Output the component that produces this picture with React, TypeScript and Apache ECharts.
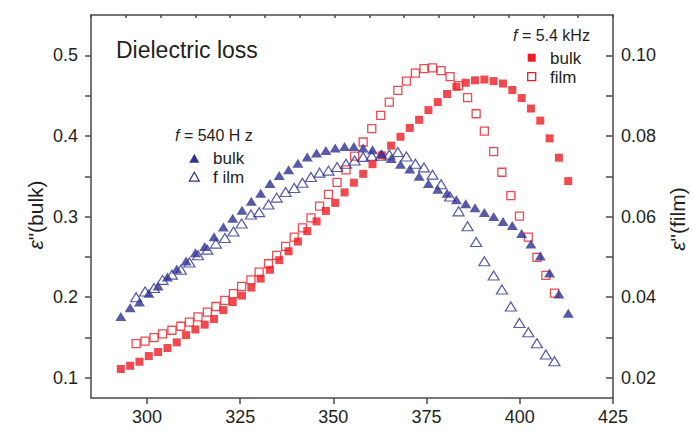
import React, { useEffect, useRef } from "react";
import * as echarts from "echarts";

// Temperature grids (K)
const T_BULK = [293.0, 295.5, 298.0, 300.5, 303.0, 305.5, 308.0, 310.5, 313.0, 315.5, 318.0, 320.5, 323.0, 325.5, 328.0, 330.5, 333.0, 335.5, 338.0, 340.5, 343.0, 345.5, 348.0, 350.5, 353.0, 355.5, 358.0, 360.5, 363.0, 365.5, 368.0, 370.5, 373.0, 375.5, 378.0, 380.5, 383.0, 385.5, 388.0, 390.5, 393.0, 395.5, 398.0, 400.5, 403.0, 405.5, 408.0, 410.5, 413.0];
const T_FILM = [297.1, 299.5, 301.9, 304.2, 306.7, 309.1, 311.4, 313.7, 316.2, 318.5, 320.9, 323.2, 325.4, 327.9, 330.1, 332.6, 334.8, 337.2, 339.5, 341.7, 344.0, 346.3, 348.7, 351.0, 353.4, 355.7, 358.0, 360.3, 362.7, 365.0, 367.3, 369.6, 372.0, 374.3, 376.6, 378.9, 381.3, 383.6, 386.0, 388.3, 390.5, 393.0, 395.2, 397.6, 399.9, 402.3, 404.6, 407.0, 409.3];

// f = 540 Hz
const BULK_540 = [0.176, 0.187, 0.194, 0.205, 0.214, 0.225, 0.235, 0.245, 0.255, 0.263, 0.275, 0.287, 0.298, 0.308, 0.319, 0.329, 0.341, 0.351, 0.358, 0.366, 0.374, 0.379, 0.382, 0.385, 0.387, 0.387, 0.385, 0.383, 0.378, 0.372, 0.365, 0.359, 0.350, 0.341, 0.334, 0.329, 0.321, 0.316, 0.311, 0.305, 0.300, 0.294, 0.289, 0.279, 0.266, 0.251, 0.230, 0.204, 0.180];
const FILM_540 = [0.0400, 0.0414, 0.0423, 0.0443, 0.0456, 0.0468, 0.0486, 0.0504, 0.0518, 0.0533, 0.0547, 0.0563, 0.0583, 0.0605, 0.0611, 0.0630, 0.0647, 0.0661, 0.0671, 0.0684, 0.0698, 0.0709, 0.0714, 0.0723, 0.0731, 0.0739, 0.0748, 0.0751, 0.0751, 0.0754, 0.0760, 0.0749, 0.0731, 0.0722, 0.0704, 0.0680, 0.0650, 0.0613, 0.0576, 0.0537, 0.0489, 0.0454, 0.0419, 0.0377, 0.0336, 0.0313, 0.0286, 0.0258, 0.0241];

// f = 5.4 kHz
const BULK_54K = [0.111, 0.115, 0.120, 0.127, 0.132, 0.137, 0.144, 0.153, 0.160, 0.166, 0.173, 0.184, 0.194, 0.202, 0.212, 0.223, 0.234, 0.246, 0.257, 0.269, 0.282, 0.294, 0.307, 0.317, 0.330, 0.342, 0.353, 0.365, 0.376, 0.388, 0.399, 0.410, 0.420, 0.432, 0.442, 0.452, 0.461, 0.466, 0.469, 0.470, 0.468, 0.465, 0.457, 0.447, 0.434, 0.419, 0.397, 0.373, 0.344];
const FILM_54K = [0.0285, 0.0291, 0.0300, 0.0309, 0.0318, 0.0328, 0.0338, 0.0351, 0.0363, 0.0377, 0.0392, 0.0409, 0.0427, 0.0443, 0.0462, 0.0483, 0.0504, 0.0526, 0.0549, 0.0572, 0.0597, 0.0626, 0.0655, 0.0685, 0.0716, 0.0750, 0.0785, 0.0818, 0.0851, 0.0884, 0.0913, 0.0936, 0.0956, 0.0967, 0.0969, 0.0962, 0.0947, 0.0925, 0.0895, 0.0855, 0.0812, 0.0761, 0.0710, 0.0652, 0.0601, 0.0549, 0.0499, 0.0454, 0.0410];

// Axis ticks
const X_TICKS = [300, 325, 350, 375, 400, 425];
const YL_LABELS = [0.1, 0.2, 0.3, 0.4, 0.5];
const YL_TICKS = [0.1, 0.15, 0.2, 0.25, 0.3, 0.35, 0.4, 0.45, 0.5];
const YR_LABELS = [0.02, 0.04, 0.06, 0.08, 0.1];
const YR_TICKS = [0.02, 0.03, 0.04, 0.05, 0.06, 0.07, 0.08, 0.09, 0.1];

const BLUE = "#2e3192";
const RED = "#ed1c24";
const AXIS = "#4a4a4a";
const TEXT = "#231f20";
const FONT = "Liberation Sans, Arial, sans-serif";

const pairs = (xs: number[], ys: number[]) => xs.map((x, i) => [x, ys[i]]);

export default function App() {
  const ref = useRef<HTMLDivElement>(null);
  useEffect(() => {
    if (!ref.current) return;
    const chart = echarts.init(ref.current, undefined, { renderer: "svg" });
    const axisLine = { show: true, lineStyle: { color: AXIS, width: 1.5 } };
    const tri = (x: number, y: number) => [[x - 5, y + 4.5], [x + 5, y + 4.5], [x, y - 4.5]];
    chart.setOption({
      animation: false,
      backgroundColor: "#fff",
      grid: { left: 91, right: 80, top: 15, bottom: 32, containLabel: false, outerBoundsMode: "none" },
      xAxis: [
        {
          type: "value", position: "bottom", min: 285, max: 425,
          axisLine,
          axisTick: { show: true, customValues: X_TICKS, length: 6, inside: false, lineStyle: { color: AXIS, width: 1.5 } },
          axisLabel: { customValues: X_TICKS, fontSize: 18, color: TEXT, fontFamily: FONT, margin: 10 },
          splitLine: { show: false },
        },
        {
          type: "value", position: "top", min: 0, max: 15, interval: 1,
          axisLine,
          axisTick: { show: true, inside: true, length: 3, lineStyle: { color: AXIS, width: 1.5 } },
          axisLabel: { show: false },
          splitLine: { show: false },
        },
      ],
      yAxis: [
        {
          type: "value", position: "left", min: 0.075, max: 0.55,
          axisLine,
          axisTick: { show: true, customValues: YL_TICKS, length: 6, inside: false, lineStyle: { color: AXIS, width: 1.5 } },
          axisLabel: { customValues: YL_LABELS, fontSize: 18, color: TEXT, fontFamily: FONT, margin: 13, formatter: (v: number) => v.toFixed(1) },
          splitLine: { show: false },
        },
        {
          type: "value", position: "right", min: 0.015, max: 0.11,
          axisLine,
          axisTick: { show: true, customValues: YR_TICKS, length: 7, inside: true, lineStyle: { color: AXIS, width: 1.5 } },
          axisLabel: { customValues: YR_LABELS, fontSize: 18, color: TEXT, fontFamily: FONT, margin: 8, formatter: (v: number) => v.toFixed(2) },
          splitLine: { show: false },
        },
      ],
      series: [
        {
          name: "film 5.4 kHz", type: "scatter", xAxisIndex: 0, yAxisIndex: 1,
          data: pairs(T_FILM, FILM_54K), symbol: "rect", symbolSize: 8,
          itemStyle: { color: "rgba(255,255,255,0)", borderColor: RED, borderWidth: 1.3 },
        },
        {
          name: "film 540 Hz", type: "scatter", xAxisIndex: 0, yAxisIndex: 1,
          data: pairs(T_FILM, FILM_540), symbol: "triangle", symbolSize: [11, 9],
          itemStyle: { color: "rgba(255,255,255,0)", borderColor: BLUE, borderWidth: 1.2 },
        },
        {
          name: "bulk 5.4 kHz", type: "scatter", xAxisIndex: 0, yAxisIndex: 0,
          data: pairs(T_BULK, BULK_54K), symbol: "rect", symbolSize: 8,
          itemStyle: { color: RED },
        },
        {
          name: "bulk 540 Hz", type: "scatter", xAxisIndex: 0, yAxisIndex: 0,
          data: pairs(T_BULK, BULK_540), symbol: "triangle", symbolSize: [11, 9],
          itemStyle: { color: BLUE },
        },
      ],
      graphic: [
        { type: "text", x: 116, y: 50, style: { text: "Dielectric loss", fontSize: 23, fontFamily: FONT, fill: TEXT, textVerticalAlign: "middle", textAlign: "left" } },
        {
          type: "text", x: 35, y: 215, rotation: Math.PI / 2,
          style: { text: '{i|ε}"(bulk)', fontSize: 21, fontFamily: FONT, fill: TEXT, textAlign: "center", textVerticalAlign: "middle", rich: { i: { fontStyle: "italic", fontSize: 21, fontFamily: FONT, fill: TEXT } } },
        },
        {
          type: "text", x: 677, y: 219, rotation: Math.PI / 2,
          style: { text: '{i|ε}"(film)', fontSize: 21, fontFamily: FONT, fill: TEXT, textAlign: "center", textVerticalAlign: "middle", rich: { i: { fontStyle: "italic", fontSize: 21, fontFamily: FONT, fill: TEXT } } },
        },
        // 5.4 kHz legend
        { type: "text", x: 513, y: 35, style: { text: "{i|f} = 5.4 kHz", fontSize: 16, fontFamily: FONT, fill: TEXT, textVerticalAlign: "middle", rich: { i: { fontStyle: "italic", fontSize: 16, fontFamily: FONT, fill: TEXT } } } },
        { type: "rect", shape: { x: 527.7, y: 53.7, width: 8, height: 8 }, style: { fill: RED } },
        { type: "text", x: 550, y: 58, style: { text: "bulk", fontSize: 17, fontFamily: FONT, fill: TEXT, textVerticalAlign: "middle" } },
        { type: "rect", shape: { x: 527.7, y: 72.7, width: 8, height: 8 }, style: { fill: "none", stroke: RED, lineWidth: 1.3 } },
        { type: "text", x: 550, y: 77, style: { text: "film", fontSize: 17, fontFamily: FONT, fill: TEXT, textVerticalAlign: "middle" } },
        // 540 Hz legend
        { type: "text", x: 175, y: 135, style: { text: "{i|f} = 540 H z", fontSize: 16, fontFamily: FONT, fill: TEXT, textVerticalAlign: "middle", rich: { i: { fontStyle: "italic", fontSize: 16, fontFamily: FONT, fill: TEXT } } } },
        { type: "polygon", shape: { points: tri(194.3, 158.3) }, style: { fill: BLUE } },
        { type: "text", x: 213, y: 158, style: { text: "bulk", fontSize: 17, fontFamily: FONT, fill: TEXT, textVerticalAlign: "middle" } },
        { type: "polygon", shape: { points: tri(194.3, 176.7) }, style: { fill: "none", stroke: BLUE, lineWidth: 1.2 } },
        { type: "text", x: 213, y: 177, style: { text: "f ilm", fontSize: 17, fontFamily: FONT, fill: TEXT, textVerticalAlign: "middle" } },
      ],
    });
    return () => chart.dispose();
  }, []);
  return <div ref={ref} style={{ position: "fixed", left: 0, top: 0, width: 693, height: 430 }} />;
}
